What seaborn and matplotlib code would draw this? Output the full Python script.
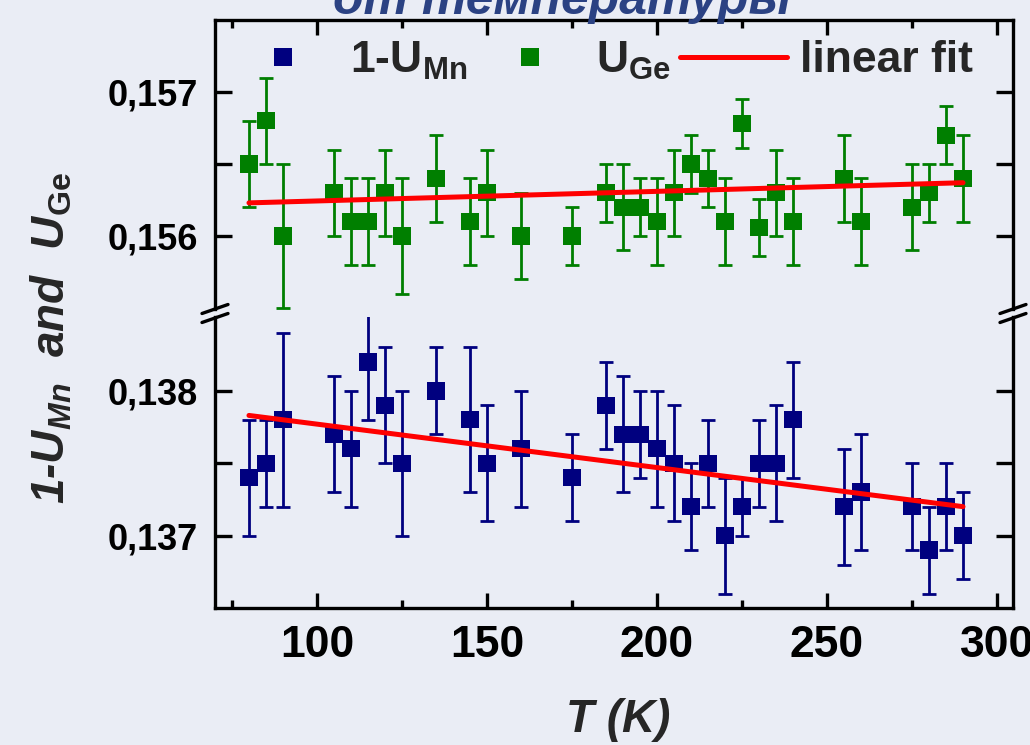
import numpy as np
import matplotlib
matplotlib.use("Agg")
import matplotlib.pyplot as plt
import seaborn as sns
from matplotlib.lines import Line2D
from matplotlib.ticker import FixedLocator, FuncFormatter

# ---------------- data ----------------
T = [80, 85, 90, 105, 110, 115, 120, 125, 135, 145, 150, 160, 175, 185, 190, 195,
     200, 205, 210, 215, 220, 225, 230, 235, 240, 255, 260, 275, 280, 285, 290]
u_ge = [0.1565, 0.1568, 0.1560, 0.1563, 0.1561, 0.1561, 0.1563, 0.1560, 0.1564, 0.1561,
        0.1563, 0.1560, 0.1560, 0.1563, 0.1562, 0.1562, 0.1561, 0.1563, 0.1565, 0.1564,
        0.1561, 0.15678, 0.15606, 0.1563, 0.1561, 0.1564, 0.1561, 0.1562, 0.1563, 0.1567, 0.1564]
u_ge_err = [0.0003, 0.0003, 0.0005, 0.0003, 0.0003, 0.0003, 0.0003, 0.0004, 0.0003, 0.0003,
            0.0003, 0.0003, 0.0002, 0.0002, 0.0003, 0.0002, 0.0003, 0.0003, 0.0002, 0.0002,
            0.0003, 0.00017, 0.0002, 0.0003, 0.0003, 0.0003, 0.0003, 0.0003, 0.0002, 0.0002, 0.0003]
u_mn = [0.1374, 0.1375, 0.1378, 0.1377, 0.1376, 0.1382, 0.1379, 0.1375, 0.1380, 0.1378,
        0.1375, 0.1376, 0.1374, 0.1379, 0.1377, 0.1377, 0.1376, 0.1375, 0.1372, 0.1375,
        0.1370, 0.1372, 0.1375, 0.1375, 0.1378, 0.1372, 0.1373, 0.1372, 0.1369, 0.1372, 0.1370]
u_mn_err = [0.0004, 0.0003, 0.0006, 0.0004, 0.0004, 0.0004, 0.0004, 0.0005, 0.0003, 0.0005,
            0.0004, 0.0004, 0.0003, 0.0003, 0.0004, 0.0003, 0.0004, 0.0004, 0.0003, 0.0003,
            0.0004, 0.0002, 0.0003, 0.0004, 0.0004, 0.0004, 0.0004, 0.0003, 0.0003, 0.0003, 0.0003]
fit_T = [80, 290]
fit_ge = [0.15623, 0.15637]
fit_mn = [0.13783, 0.13720]

x_ticks = [100, 150, 200, 250, 300]
x_minor = [75, 125, 175, 225, 275]
y_ticks_top = [0.156, 0.157]
y_minor_top = [0.1565]
y_ticks_bot = [0.137, 0.138]
y_minor_bot = [0.1375]

title_text = "от температуры"
legend_labels = ["1-U$_{\\mathrm{Mn}}$", "U$_{\\mathrm{Ge}}$", "linear fit"]
ylabel_text = "1-U$_{Mn}$  and  U$_{\\mathrm{Ge}}$"
xlabel_text = "T (K)"

# ---------------- style ----------------
sns.set_theme(style="ticks")
bg = "#EAEDF5"
navy = "#00007F"
green = "#007F00"
plt.rcParams['font.family'] = ['Liberation Sans', 'DejaVu Sans']
plt.rcParams.update({
    'font.weight': 'bold',
    'mathtext.fontset': 'custom',
    'mathtext.rm': 'Liberation Sans:bold',
    'mathtext.it': 'Liberation Sans:bold:italic',
    'mathtext.bf': 'Liberation Sans:bold',
    'axes.edgecolor': 'black',
    'xtick.color': 'black',
    'ytick.color': 'black',
})

fig = plt.figure(figsize=(10.3, 7.45), dpi=100, facecolor=bg)
ax_top = fig.add_axes([0.2087, 0.5852, 0.7748, 0.388])
ax_bot = fig.add_axes([0.2087, 0.1839, 0.7748, 0.3906])

def draw(ax, vals, errs, fit, color):
    ax.errorbar(T, vals, yerr=errs, fmt='none', ecolor=color, elinewidth=2.0,
                capsize=4.7, capthick=2.0, zorder=2)
    sns.scatterplot(x=T, y=vals, ax=ax, marker='s', s=12.5 ** 2, color=color,
                    edgecolor='none', linewidth=0, legend=False, zorder=3)
    sns.lineplot(x=fit_T, y=fit, ax=ax, color='red', linewidth=3.6,
                 solid_capstyle='round', zorder=4)

draw(ax_top, u_ge, u_ge_err, fit_ge, green)
draw(ax_bot, u_mn, u_mn_err, fit_mn, navy)

ax_top.set_ylim(0.155493, 0.1575)
ax_bot.set_ylim(0.1365, 0.13851)
comma = FuncFormatter(lambda v, p: f"{v:.3f}".replace('.', ','))
for ax, yt, ym in ((ax_top, y_ticks_top, y_minor_top), (ax_bot, y_ticks_bot, y_minor_bot)):
    ax.set_facecolor('none')
    ax.set_xlim(70, 304.7)
    ax.xaxis.set_major_locator(FixedLocator(x_ticks))
    ax.xaxis.set_minor_locator(FixedLocator(x_minor))
    ax.yaxis.set_major_locator(FixedLocator(yt))
    ax.yaxis.set_minor_locator(FixedLocator(ym))
    ax.yaxis.set_major_formatter(comma)
    for s in ax.spines.values():
        s.set_linewidth(2.4)
    ax.tick_params(axis='y', which='both', direction='in', left=True, right=True,
                   length=12, width=2.4, labelsize=26, pad=12)
    ax.tick_params(axis='x', which='major', direction='in', length=11, width=2.4)
    ax.tick_params(axis='x', which='minor', direction='in', length=6, width=2.4)
    ax.set_xlabel('')
    ax.set_ylabel('')

ax_top.spines['bottom'].set_visible(False)
ax_bot.spines['top'].set_visible(False)
ax_top.tick_params(axis='x', which='both', top=True, bottom=False,
                   labeltop=False, labelbottom=False)
ax_bot.tick_params(axis='x', which='both', top=False, bottom=True,
                   labelbottom=True, labelsize=32, pad=12)

# break marks
W, H = fig.get_size_inches() * fig.dpi
def slash(xpx, ypx):
    dx, dy = 13, 4.5
    fig.add_artist(Line2D([(xpx - dx) / W, (xpx + dx) / W],
                          [1 - (ypx + dy) / H, 1 - (ypx - dy) / H],
                          color='black', lw=2.4, transform=fig.transFigure))
for xp in (215, 1013):
    slash(xp, 309)
    slash(xp, 318)

# legend
handles = [Line2D([], [], marker='s', ls='none', color=navy, markersize=12.5, markeredgewidth=0),
           Line2D([], [], marker='s', ls='none', color=green, markersize=12.5, markeredgewidth=0),
           Line2D([], [], color='red', lw=3.6, solid_capstyle='round')]
ax_top.legend(handles, legend_labels, ncol=3, frameon=False, loc='center left',
              bbox_to_anchor=(0.019, 0.86), borderpad=0, borderaxespad=0,
              handlelength=2.4, handletextpad=0.3, columnspacing=0.2,
              prop={'size': 32, 'weight': 'bold'})

fig.text(0.05, 0.546, ylabel_text, rotation=90, ha='center', va='center',
         fontsize=33, fontweight='bold', fontstyle='italic')
fig.text(0.60, 0.034, xlabel_text, ha='center', va='center',
         fontsize=33, fontweight='bold', fontstyle='italic')
fig.text(0.546, 1 - 14 / 745, title_text, ha='center', va='baseline',
         fontsize=36, fontweight='bold', fontstyle='italic', color='#2B4283')

fig.savefig('out.png', dpi=100, facecolor=bg)
